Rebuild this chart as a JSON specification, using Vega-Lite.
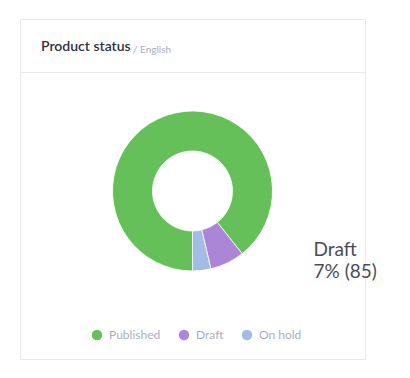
{
  "$schema": "https://vega.github.io/schema/vega-lite/v6.json",
  "padding": {"left": 19, "top": 18, "right": 0, "bottom": 0},
  "background": "white",
  "spacing": 0,
  "bounds": "flush",
  "title": {
    "text": "/ English",
    "anchor": "start",
    "frame": "group",
    "orient": "top",
    "baseline": "alphabetic",
    "offset": -44,
    "dx": 113,
    "font": "Lato",
    "fontSize": 10,
    "fontWeight": "normal",
    "color": "#a9aec6"
  },
  "datasets": {
    "status": [
      {"status": "Published", "count": 1090, "tip": ""},
      {"status": "Draft", "count": 85, "tip": ["Draft", "7% (85)"]},
      {"status": "On hold", "count": 45, "tip": ""}
    ]
  },
  "vconcat": [
    {
      "width": 345,
      "height": 53,
      "view": {"stroke": "#e9e9e9", "fill": "white"},
      "data": {"values": [{"header": "Product status"}]},
      "title": {
        "text": "Product status",
        "anchor": "start",
        "frame": "group",
        "orient": "top",
        "baseline": "alphabetic",
        "offset": -46,
        "dx": 21,
        "font": "Lato",
        "fontSize": 14,
        "fontWeight": 600,
        "color": "#2f3140"
      },
      "mark": {"type": "rect", "fill": "white", "opacity": 0},
      "encoding": {}
    },
    {
      "width": 345,
      "height": 287,
      "view": {"stroke": "#e9e9e9", "fill": "white"},
      "data": {"name": "status"},
      "layer": [
        {
          "mark": {"type": "arc", "radius": 80, "innerRadius": 40, "yOffset": -24.5, "stroke": "white", "strokeWidth": 0.8},
          "encoding": {
            "theta": {"field": "count", "type": "quantitative", "stack": true, "scale": {"range": [3.14159265, 9.42477796]}},
            "order": {"field": "count", "sort": "descending"},
            "color": {
              "field": "status",
              "type": "nominal",
              "scale": {"domain": ["Published", "Draft", "On hold"], "range": ["#65c05a", "#ad85d7", "#a3bce3"]},
              "legend": {
                "title": null,
                "orient": "none",
                "direction": "horizontal",
                "legendX": 71,
                "legendY": 310,
                "symbolType": "circle",
                "symbolSize": 110,
                "symbolStrokeWidth": 0,
                "labelFont": "Lato",
                "labelFontSize": 12,
                "labelColor": "#a9aec4",
                "labelOffset": 6,
                "columnPadding": 17
              }
            }
          }
        },
        {
          "mark": {"type": "text", "radius": 134.6, "thetaOffset": -0.667, "yOffset": -24.5, "align": "left", "baseline": "middle", "font": "Lato", "fontSize": 19, "lineHeight": 22, "color": "#4a4c5a"},
          "encoding": {
            "theta": {"field": "count", "type": "quantitative", "stack": true},
            "order": {"field": "count", "sort": "descending"},
            "text": {"field": "tip"}
          }
        }
      ]
    }
  ]
}
